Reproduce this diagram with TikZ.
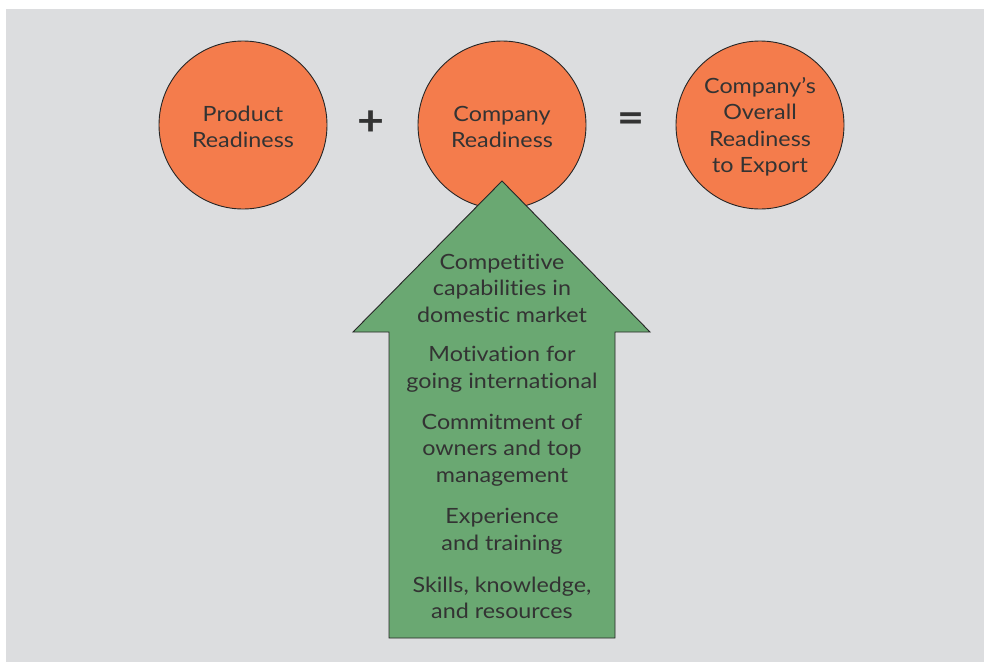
\documentclass[tikz,border=0pt]{standalone}
\usepackage{fontspec}
\setmainfont{Lato}[FakeStretch=1.11,Ligatures=NoCommon]
\definecolor{bg}{HTML}{DCDDDF}
\definecolor{orng}{HTML}{F47C4C}
\definecolor{grn}{HTML}{6AA872}
\definecolor{txt}{HTML}{333333}
\tikzset{
  circ/.style={circle,draw=black!85,line width=0.9pt,fill=orng,minimum size=168pt,inner sep=0pt},
  lbl/.style={align=center,text=txt,font=\fontsize{21}{26.5}\selectfont,inner sep=0pt},
  op/.style={text=txt,font=\fontsize{42}{42}\selectfont\bfseries,inner sep=0pt}
}
\begin{document}
\begin{tikzpicture}[x=1pt,y=-1pt]
\useasboundingbox (0,0) rectangle (984,662);
\fill[bg] (6,9) rectangle (984,662);
\node[circ] (prod) at (243,125) {};
\node[circ] (comp) at (502,125) {};
\node[circ] (over) at (760,125) {};
\node[lbl] (prodt) at (243,127) {Product\\Readiness};
\node[lbl] (compt) at (502,127) {Company\\Readiness};
\node[lbl] (overt) at (760,127) {Company’s\\Overall\\Readiness\\to Export};
\node[op] (plus) at (371,123) {+};
\node[op] (eq) at (631,123) {=};
\coordinate (tip) at (502,181);
\coordinate (hl) at (353,332);
\coordinate (hr) at (650,332);
\coordinate (sl) at (389,332);
\coordinate (sr) at (615,332);
\coordinate (bl) at (389,638);
\coordinate (br) at (615,638);
\draw[fill=grn,draw=black!85,line width=0.9pt] (tip) -- (hr) -- (sr) -- (br) -- (bl) -- (sl) -- (hl) -- cycle;
\node[lbl] (t1) at (502,288) {Competitive\\capabilities in\\domestic market};
\node[lbl] (t2) at (502,369) {Motivation for\\going international};
\node[lbl] (t3) at (502,450) {Commitment of\\owners and top\\management};
\node[lbl] (t4) at (502,531) {Experience\\and training};
\node[lbl] (t5) at (502,598) {Skills, knowledge,\\and resources};
\end{tikzpicture}
\end{document}
